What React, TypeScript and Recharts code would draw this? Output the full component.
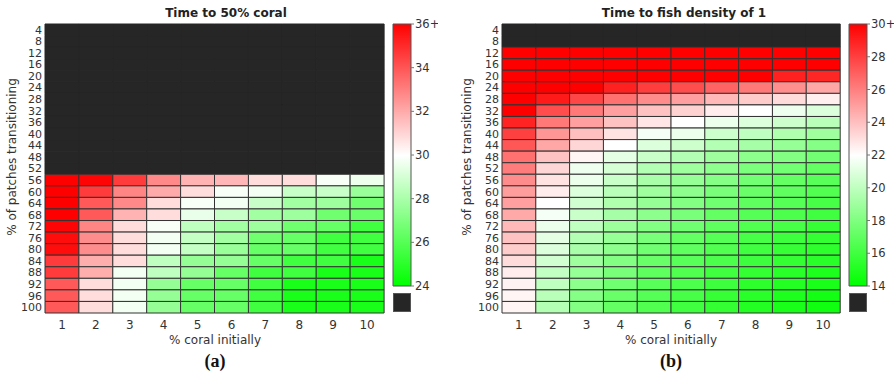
import { BarChart, Bar, XAxis, YAxis, Cell } from 'recharts';

// rows: % of patches transitioning, columns: % coral initially
const rowLabels = [4, 8, 12, 16, 20, 24, 28, 32, 36, 40, 44, 48, 52, 56, 60, 64, 68, 72, 76, 80, 84, 88, 92, 96, 100];
const coralCols = [1, 2, 3, 4, 5, 6, 7, 8, 9, 10];

// (a) time to 50% coral, null = never reached
const coralTime: (number | null)[][] = [
  [null, null, null, null, null, null, null, null, null, null],
  [null, null, null, null, null, null, null, null, null, null],
  [null, null, null, null, null, null, null, null, null, null],
  [null, null, null, null, null, null, null, null, null, null],
  [null, null, null, null, null, null, null, null, null, null],
  [null, null, null, null, null, null, null, null, null, null],
  [null, null, null, null, null, null, null, null, null, null],
  [null, null, null, null, null, null, null, null, null, null],
  [null, null, null, null, null, null, null, null, null, null],
  [null, null, null, null, null, null, null, null, null, null],
  [null, null, null, null, null, null, null, null, null, null],
  [null, null, null, null, null, null, null, null, null, null],
  [null, null, null, null, null, null, null, null, null, null],
  [36, 35.9, 34.6, 32.8, 31.8, 31.7, 30.8, 30.8, 29.8, 29.6],
  [36, 34.6, 32.9, 32, 30.8, 29.8, 29.7, 28.7, 28.7, 27.6],
  [36, 33.9, 32.8, 30.8, 29.8, 29.7, 28.7, 27.8, 27.7, 26.6],
  [36, 33.9, 31.8, 30.8, 29.5, 28.7, 27.8, 27.7, 26.6, 26.5],
  [35.9, 32.9, 30.8, 29.8, 28.5, 27.8, 27.7, 26.6, 26.4, 25.5],
  [35.7, 32.7, 30.8, 29.7, 28.6, 27.8, 26.6, 26.4, 25.5, 25.5],
  [35.7, 32.7, 30.8, 29.7, 28.6, 27.6, 26.4, 26.4, 25.5, 25.5],
  [34.6, 31.9, 30.8, 28.5, 27.5, 27.5, 26.4, 25.5, 25.5, 24.6],
  [34.6, 31.9, 29.7, 28.5, 27.5, 26.4, 25.5, 25.5, 24.6, 24.6],
  [33.9, 30.8, 29.7, 27.5, 26.4, 26.4, 25.5, 24.6, 24.6, 24.6],
  [33.9, 30.8, 29.7, 27.5, 26.4, 26.4, 25.5, 24.6, 24.6, 24.6],
  [33.9, 30.8, 29.7, 27.5, 26.4, 26.4, 25.5, 24.6, 24.6, 24.6],
];

// (b) time to fish density of 1
const fishTime: (number | null)[][] = [
  [null, null, null, null, null, null, null, null, null, null],
  [null, null, null, null, null, null, null, null, null, null],
  [30, 30, 30, 30, 30, 30, 30, 30, 30, 30],
  [30, 30, 30, 30, 30, 30, 30, 30, 30, 30],
  [30, 30, 30, 30, 30, 30, 30, 30, 29, 28.8],
  [30, 30, 30, 29, 28.1, 27.6, 26.9, 26.2, 25.5, 24.8],
  [30, 29.2, 27.8, 26.5, 25.6, 25, 24.2, 23.6, 23.1, 22.5],
  [30, 27.6, 26.2, 25, 23.9, 23.4, 22.6, 22, 21.5, 20.9],
  [28.9, 26.2, 25, 23.9, 22.8, 22, 21.4, 20.9, 20.4, 19.8],
  [28, 25.3, 24, 22.9, 21.7, 21.4, 20.4, 20, 19.5, 19],
  [27.3, 24.8, 23.3, 22, 20.9, 20.4, 19.6, 19.2, 18.7, 18.2],
  [26.5, 23.9, 22.3, 21.2, 20.3, 19.6, 19, 18.4, 18.1, 17.6],
  [26.1, 23.3, 21.5, 20.7, 19.6, 19, 18.5, 17.9, 17.6, 17.1],
  [25.6, 22.9, 21.4, 20.3, 19.3, 18.7, 18.2, 17.6, 17.1, 16.8],
  [25.1, 22.6, 20.9, 19.8, 19, 18.4, 17.8, 17.3, 17, 16.5],
  [25, 22, 20.6, 19.5, 18.7, 18.1, 17.5, 17, 16.7, 16.2],
  [24.7, 21.7, 20.3, 19.2, 18.4, 17.8, 17.1, 16.7, 16.4, 16],
  [24.2, 21.4, 20, 18.9, 18.1, 17.5, 17, 16.5, 16.2, 15.7],
  [23.9, 21.2, 19.6, 18.7, 17.8, 17.1, 16.7, 16.2, 15.9, 15.6],
  [23.6, 20.9, 19.3, 18.4, 17.5, 17, 16.5, 16, 15.7, 15.4],
  [23.1, 20.6, 19, 18.1, 17.3, 16.8, 16.4, 15.9, 15.6, 15.3],
  [22.6, 20.1, 18.7, 17.8, 17, 16.5, 16, 15.6, 15.3, 14.9],
  [22.4, 20, 18.4, 17.5, 16.8, 16.4, 15.9, 15.4, 15.1, 14.8],
  [22.3, 19.8, 18.2, 17.3, 16.7, 16.2, 15.7, 15.3, 14.9, 14.6],
  [22.3, 19.6, 18.1, 17.1, 16.5, 16, 15.6, 15.1, 14.8, 14.5],
];

const coralTicks = [24, 26, 28, 30, 32, 34, 36];
const fishTicks = [14, 16, 18, 20, 22, 24, 26, 28, 30];

const NO_DATA = '#262626';
const FONT = '"DejaVu Sans", sans-serif';
const TEXT = '#333';

type Scale = { min: number; mid: number; max: number };

function cellColor(v: number | null, s: Scale) {
  if (v == null) return NO_DATA;
  if (v >= s.mid) {
    const t = Math.min(1, (v - s.mid) / (s.max - s.mid));
    const g = Math.round(255 * (1 - t));
    return `rgb(255,${g},${g})`;
  }
  const t = Math.min(1, (s.mid - v) / (s.mid - s.min));
  const r = Math.round(255 * (1 - t));
  return `rgb(${r},255,${r})`;
}

const rowStep = rowLabels[1] - rowLabels[0];

function Heatmap({
  values,
  scale,
  width,
  yAxisWidth,
}: {
  values: (number | null)[][];
  scale: Scale;
  width: number;
  yAxisWidth: number;
}) {
  // one stacked segment per row, one category per column
  const data = coralCols.map((c) => {
    const d: Record<string, number | string> = { col: String(c) };
    rowLabels.forEach((r) => (d['r' + r] = rowStep));
    return d;
  });

  return (
    <BarChart
      width={width}
      height={375}
      data={data}
      barCategoryGap={0}
      margin={{ top: 24, right: 6, bottom: 32, left: 0 }}
    >
      <XAxis
        dataKey="col"
        axisLine={false}
        tickLine={false}
        tickSize={0}
        tickMargin={7}
        height={30}
        tick={{ fill: TEXT, fontSize: 12, fontFamily: FONT }}
      />
      <YAxis
        type="number"
        reversed
        domain={[0, rowLabels[rowLabels.length - 1]]}
        ticks={rowLabels.map((r) => r - rowStep / 2)}
        tickFormatter={(v) => String(v + rowStep / 2)}
        interval={0}
        axisLine={false}
        tickLine={false}
        tickSize={0}
        tickMargin={3}
        width={yAxisWidth}
        tick={{ fill: TEXT, fontSize: 11, fontFamily: FONT }}
      />
      {rowLabels.map((r, ri) => (
        <Bar key={r} dataKey={'r' + r} stackId="s" isAnimationActive={false}>
          {coralCols.map((c, ci) => {
            const v = values[ri][ci];
            return (
              <Cell
                key={c}
                fill={cellColor(v, scale)}
                stroke={v == null ? NO_DATA : '#333'}
                strokeWidth={1}
              />
            );
          })}
        </Bar>
      ))}
    </BarChart>
  );
}

function ColorBar({ id, scale, ticks }: { id: string; scale: Scale; ticks: number[] }) {
  const data = [{ name: 'cb', range: [scale.min, scale.max] }];
  return (
    <BarChart
      width={48}
      height={375}
      data={data}
      barCategoryGap={0}
      margin={{ top: 24, right: 0, bottom: 89, left: 3 }}
    >
      <defs>
        <linearGradient id={id} x1="0" y1="0" x2="0" y2="1">
          <stop offset="0%" stopColor="#ff0000" />
          <stop offset="50%" stopColor="#ffffff" />
          <stop offset="100%" stopColor="#00ff00" />
        </linearGradient>
      </defs>
      <XAxis dataKey="name" hide />
      <YAxis
        orientation="right"
        type="number"
        domain={[scale.min, scale.max]}
        ticks={ticks}
        interval={0}
        tickFormatter={(v) => (v === scale.max ? `${v}+` : String(v))}
        axisLine={false}
        tickSize={3}
        tickMargin={1}
        tickLine={{ stroke: '#777' }}
        width={27}
        tick={{ fill: TEXT, fontSize: 11.5, fontFamily: FONT, textAnchor: 'start' }}
      />
      <Bar
        dataKey="range"
        fill={`url(#${id})`}
        stroke="#555"
        strokeWidth={1}
        isAnimationActive={false}
      />
    </BarChart>
  );
}

const abs = (left: number, top: number): React.CSSProperties => ({
  position: 'absolute',
  left,
  top,
});

function Panel({
  title,
  titleCenter,
  plotCenter,
  yLabelX,
  letter,
  children,
}: {
  title: string;
  titleCenter: number;
  plotCenter: number;
  yLabelX: number;
  letter: string;
  children: React.ReactNode;
}) {
  return (
    <>
      <div
        style={{
          ...abs(titleCenter - 150, 6),
          width: 300,
          textAlign: 'center',
          fontFamily: FONT,
          fontWeight: 'bold',
          fontSize: 12,
          color: '#222',
        }}
      >
        {title}
      </div>
      {children}
      <div
        style={{
          ...abs(yLabelX - 100, 157 - 8),
          width: 200,
          height: 16,
          lineHeight: '16px',
          textAlign: 'center',
          transform: 'rotate(-90deg)',
          fontFamily: FONT,
          fontSize: 12,
          color: TEXT,
        }}
      >
        % of patches transitioning
      </div>
      <div
        style={{
          ...abs(plotCenter - 100, 333),
          width: 200,
          textAlign: 'center',
          fontFamily: FONT,
          fontSize: 12,
          color: TEXT,
        }}
      >
        % coral initially
      </div>
      <div
        style={{
          ...abs(plotCenter - 50, 351),
          width: 100,
          textAlign: 'center',
          fontFamily: '"Liberation Serif", serif',
          fontWeight: 'bold',
          fontSize: 18,
          color: '#111',
        }}
      >
        {letter}
      </div>
    </>
  );
}

export default function App() {
  return (
    <div
      style={{
        position: 'absolute',
        left: 0,
        top: 0,
        width: 894,
        height: 375,
        background: '#fff',
        overflow: 'hidden',
      }}
    >
      <Panel title="Time to 50% coral" titleCenter={226} plotCenter={215} yLabelX={12} letter="(a)">
        <div style={abs(0, 0)}>
          <Heatmap values={coralTime} scale={{ min: 24, mid: 30, max: 36 }} width={390} yAxisWidth={45} />
        </div>
        <div style={abs(390, 0)}>
          <ColorBar id="gradA" scale={{ min: 24, mid: 30, max: 36 }} ticks={coralTicks} />
        </div>
        <div
          style={{
            ...abs(393, 293),
            width: 18,
            height: 19,
            background: NO_DATA,
            boxSizing: 'border-box',
            border: '1px solid #555',
          }}
        />
      </Panel>
      <Panel title="Time to fish density of 1" titleCenter={684} plotCenter={671} yLabelX={467} letter="(b)">
        <div style={abs(450, 0)}>
          <Heatmap values={fishTime} scale={{ min: 14, mid: 22, max: 30 }} width={396} yAxisWidth={52} />
        </div>
        <div style={abs(846, 0)}>
          <ColorBar id="gradB" scale={{ min: 14, mid: 22, max: 30 }} ticks={fishTicks} />
        </div>
        <div
          style={{
            ...abs(849, 293),
            width: 18,
            height: 19,
            background: NO_DATA,
            boxSizing: 'border-box',
            border: '1px solid #555',
          }}
        />
      </Panel>
    </div>
  );
}
